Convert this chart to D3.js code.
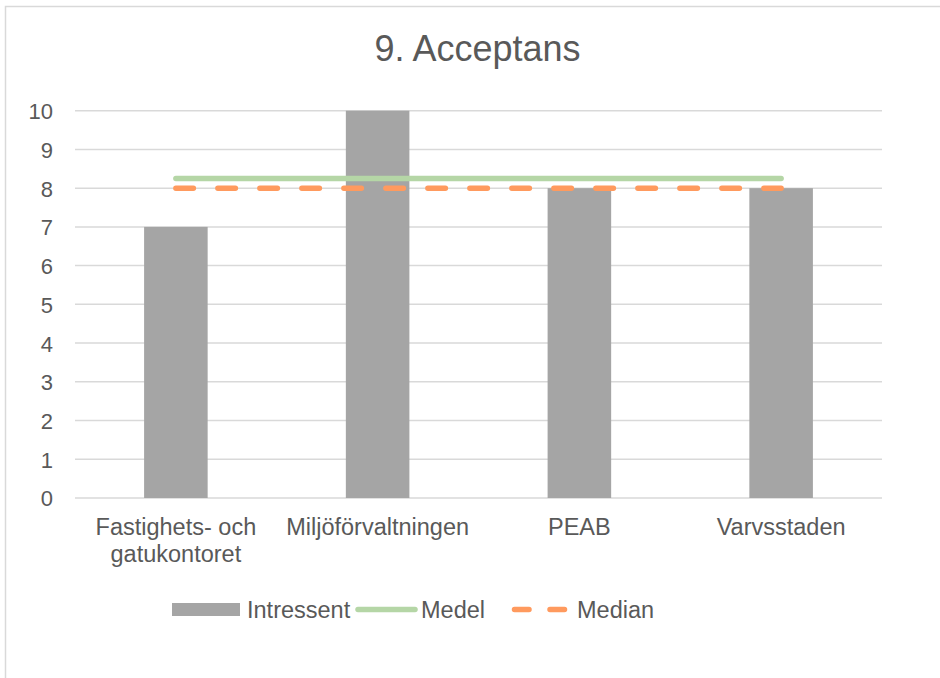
<!DOCTYPE html>
<html>
<head>
<meta charset="utf-8">
<script src="https://cdn.jsdelivr.net/npm/d3@7"></script>
<style>
  html, body { margin: 0; padding: 0; background: #fff; }
  svg { display: block; }
  text { font-family: "Liberation Sans", Arial, sans-serif; fill: #595959; }
</style>
</head>
<body>
<svg id="chart" width="940" height="678"></svg>
<script>
// Data
const categories = [["Fastighets- och", "gatukontoret"], ["Miljöförvaltningen"], ["PEAB"], ["Varvsstaden"]];
const intressent = [7, 10, 8, 8];
const medel = [8.25, 8.25, 8.25, 8.25];
const median = [8, 8, 8, 8];
const yTicks = [0, 1, 2, 3, 4, 5, 6, 7, 8, 9, 10];
const legendLabels = ["Intressent", "Medel", "Median"];

const colors = { bar: "#a5a5a5", medel: "#b5d6a6", median: "#ff9a5e", grid: "#d9d9d9" };

const svg = d3.select("#chart");

// Outer chart frame
svg.append("rect")
  .attr("x", 5.5).attr("y", 6.5)
  .attr("width", 960).attr("height", 700)
  .attr("fill", "none").attr("stroke", colors.grid).attr("stroke-width", 1.5);

const plot = { left: 75, right: 882, top: 110.7, bottom: 498 };

const keys = categories.map((c, i) => i);
const x = d3.scaleBand().domain(keys).range([plot.left, plot.right])
  .paddingInner(0.685).paddingOuter(0.3425);
const y = d3.scaleLinear().domain([0, 10]).range([plot.bottom, plot.top]);

// Title
svg.append("text")
  .attr("x", 477.5).attr("y", 61)
  .attr("text-anchor", "middle")
  .style("font-size", "36px")
  .text("9. Acceptans");

// Gridlines
svg.append("g").selectAll("line").data(yTicks).join("line")
  .attr("x1", plot.left).attr("x2", plot.right)
  .attr("y1", d => y(d)).attr("y2", d => y(d))
  .attr("stroke", colors.grid).attr("stroke-width", 1.5);

// Y axis labels
const yAxis = d3.axisLeft(y).tickValues(yTicks).tickSize(0).tickPadding(0);
const yg = svg.append("g").attr("transform", `translate(${plot.left - 22},0)`).call(yAxis);
yg.select(".domain").remove();
yg.selectAll("text").style("font-size", "22px").attr("fill", "#595959")
  .attr("font-family", null).attr("dy", "0.36em");

// Bars
svg.append("g").selectAll("rect").data(intressent).join("rect")
  .attr("x", (d, i) => x(i))
  .attr("y", d => y(d))
  .attr("width", x.bandwidth())
  .attr("height", d => y(0) - y(d))
  .attr("fill", colors.bar);

const cx = i => x(i) + x.bandwidth() / 2;
const line = d3.line().x((d, i) => cx(i)).y(d => y(d));

// Medel line
svg.append("path").datum(medel)
  .attr("d", line)
  .attr("fill", "none").attr("stroke", colors.medel)
  .attr("stroke-width", 5.5).attr("stroke-linecap", "round");

// Median line
svg.append("path").datum(median)
  .attr("d", line)
  .attr("fill", "none").attr("stroke", colors.median)
  .attr("stroke-width", 5.5).attr("stroke-linecap", "round")
  .attr("stroke-dasharray", "17.5 24.5");

// Category labels
const xl = svg.append("g");
categories.forEach((lines, i) => {
  const t = xl.append("text")
    .attr("x", cx(i)).attr("y", 535)
    .attr("text-anchor", "middle")
    .style("font-size", "23.5px");
  lines.forEach((s, j) => {
    t.append("tspan").attr("x", cx(i)).attr("dy", j === 0 ? 0 : 26.5).text(s);
  });
});

// Legend
const lg = svg.append("g").style("font-size", "23.5px");
lg.append("rect").attr("x", 172).attr("y", 603).attr("width", 68).attr("height", 13).attr("fill", colors.bar);
lg.append("text").attr("x", 247).attr("y", 618).text(legendLabels[0]);

lg.append("line").attr("x1", 358).attr("x2", 415).attr("y1", 609.5).attr("y2", 609.5)
  .attr("stroke", colors.medel).attr("stroke-width", 5.5).attr("stroke-linecap", "round");
lg.append("text").attr("x", 421).attr("y", 618).text(legendLabels[1]);

lg.append("line").attr("x1", 514.5).attr("x2", 566).attr("y1", 609.5).attr("y2", 609.5)
  .attr("stroke", colors.median).attr("stroke-width", 5.5).attr("stroke-linecap", "round")
  .attr("stroke-dasharray", "14.5 21");
lg.append("text").attr("x", 577).attr("y", 618).text(legendLabels[2]);
</script>
</body>
</html>
